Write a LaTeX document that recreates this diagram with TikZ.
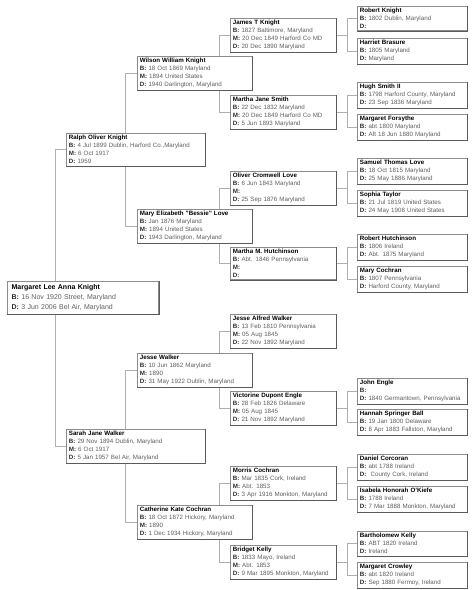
\documentclass[tikz,border=0pt]{standalone}
\usepackage{fontspec}
\setmainfont{Liberation Sans}

\definecolor{boxline}{RGB}{140,140,140}
\definecolor{boxdark}{RGB}{90,90,90}
\definecolor{linkgray}{RGB}{175,175,175}
\definecolor{txtgray}{RGB}{95,95,95}
\definecolor{lblgray}{RGB}{45,45,45}

\newcommand{\lbl}[1]{{\bfseries\color{lblgray}#1:}\ }
\newcommand{\who}[1]{{\bfseries\color{black}#1}}

\pgfdeclarelayer{bg}
\pgfsetlayers{bg,main}

\begin{document}
\begin{tikzpicture}[x=1pt, y=-1pt,
  person/.style={draw=boxline, fill=white, line width=0.8pt, anchor=north west,
    align=left, inner xsep=2.5pt, inner ysep=2pt, text=txtgray,
    font=\fontsize{6.2}{8}\selectfont,
    append after command={(\tikzlastnode.north east) edge[draw=boxdark, line width=0.8pt]
      (\tikzlastnode.south east) (\tikzlastnode.south east) edge[draw=boxdark, line width=0.8pt]
      (\tikzlastnode.south west)}},
  rootbox/.style={person, line width=1.3pt, inner xsep=4pt, inner ysep=3pt,
    text width=143pt, font=\fontsize{7}{10}\selectfont},
  gena/.style={person, text width=134pt},
  genb/.style={person, text width=110pt},
  genc/.style={person, text width=101pt},
  gend/.style={person, text width=105pt},
  link/.style={draw=linkgray, line width=0.8pt}]
  \useasboundingbox (0,0) rectangle (474,590);

  % Root person
  \node[rootbox] (margaret) at (7,281) {\who{Margaret Lee Anna Knight}\\
    \lbl{B}16 Nov 1920 Street, Maryland\\ \lbl{D}3 Jun 2006 Bel Air, Maryland};

  % Parents
  \node[gena] (ralph) at (66,133) {\who{Ralph Oliver Knight}\\
    \lbl{B}4 Jul 1899 Dublin, Harford Co.,Maryland\\ \lbl{M}6 Oct 1917\\ \lbl{D}1959};
  \node[gena] (sarah) at (66,429) {\who{Sarah Jane Walker}\\
    \lbl{B}29 Nov 1894 Dublin, Maryland\\ \lbl{M}6 Oct 1917\\ \lbl{D}5 Jan 1957 Bel Air, Maryland};

  % Grandparents
  \node[genb] (wilson) at (137,56) {\who{Wilson William Knight}\\
    \lbl{B}18 Oct 1869 Maryland\\ \lbl{M}1894 United States\\ \lbl{D}1940 Darlington, Maryland};
  \node[genb] (bessie) at (137,209) {\who{Mary Elizabeth "Bessie" Love}\\
    \lbl{B}Jan 1876 Maryland\\ \lbl{M}1894 United States\\ \lbl{D}1943 Darlington, Maryland};
  \node[genb] (jesse) at (137,353) {\who{Jesse Walker}\\
    \lbl{B}10 Jun 1862 Maryland\\ \lbl{M}1890\\ \lbl{D}31 May 1922 Dublin, Maryland};
  \node[genb] (catherine) at (137,505) {\who{Catherine Kate Cochran}\\
    \lbl{B}18 Oct 1872 Hickory, Maryland\\ \lbl{M}1890\\ \lbl{D}1 Dec 1934 Hickory, Maryland};

  % Great-grandparents
  \node[genc] (james) at (230,18) {\who{James T Knight}\\
    \lbl{B}1827 Baltimore, Maryland\\ \lbl{M}20 Dec 1849 Harford Co MD\\ \lbl{D}20 Dec 1890 Maryland};
  \node[genc] (marthas) at (230,95) {\who{Martha Jane Smith}\\
    \lbl{B}22 Dec 1832 Maryland\\ \lbl{M}20 Dec 1849 Harford Co MD\\ \lbl{D}5 Jun 1893 Maryland};
  \node[genc] (oliver) at (230,171) {\who{Oliver Cromwell Love}\\
    \lbl{B}6 Jun 1843 Maryland\\ \lbl{M}\\ \lbl{D}25 Sep 1876 Maryland};
  \node[genc] (marthah) at (230,247) {\who{Martha M. Hutchinson}\\
    \lbl{B}Abt. 1846 Pennsylvania\\ \lbl{M}\\ \lbl{D}};
  \node[genc] (jessea) at (230,314) {\who{Jesse Alfred Walker}\\
    \lbl{B}13 Feb 1810 Pennsylvania\\ \lbl{M}05 Aug 1845\\ \lbl{D}22 Nov 1892 Maryland};
  \node[genc] (victorine) at (230,391) {\who{Victorine Dupont Engle}\\
    \lbl{B}28 Feb 1826 Delaware\\ \lbl{M}05 Aug 1845\\ \lbl{D}21 Nov 1892 Maryland};
  \node[genc] (morris) at (230,466) {\who{Morris Cochran}\\
    \lbl{B}Mar 1835 Cork, Ireland\\ \lbl{M}Abt. 1853\\ \lbl{D}3 Apr 1916 Monkton, Maryland};
  \node[genc] (bridget) at (230,545) {\who{Bridget Kelly}\\
    \lbl{B}1833 Mayo, Ireland\\ \lbl{M}Abt. 1853\\ \lbl{D}9 Mar 1895 Monkton, Maryland};

  % Great-great-grandparents
  \node[gend] (robertk) at (357,6) {\who{Robert Knight}\\ \lbl{B}1802 Dublin, Maryland\\ \lbl{D}};
  \node[gend] (harriet) at (357,38) {\who{Harriet Brasure}\\ \lbl{B}1805 Maryland\\ \lbl{D}Maryland};
  \node[gend] (hugh) at (357,82) {\who{Hugh Smith II}\\ \lbl{B}1798 Harford County, Maryland\\ \lbl{D}23 Sep 1836 Maryland};
  \node[gend] (margaretf) at (357,114) {\who{Margaret Forsythe}\\ \lbl{B}abt 1800 Maryland\\ \lbl{D}Aft 18 Jun 1880 Maryland};
  \node[gend] (samuel) at (357,158) {\who{Samuel Thomas Love}\\ \lbl{B}18 Oct 1815 Maryland\\ \lbl{D}25 May 1886 Maryland};
  \node[gend] (sophia) at (357,190) {\who{Sophia Taylor}\\ \lbl{B}21 Jul 1819 United States\\ \lbl{D}24 May 1908 United States};
  \node[gend] (roberth) at (357,234) {\who{Robert Hutchinson}\\ \lbl{B}1806 Ireland\\ \lbl{D}Abt. 1875 Maryland};
  \node[gend] (maryc) at (357,266) {\who{Mary Cochran}\\ \lbl{B}1807 Pennsylvania\\ \lbl{D}Harford County, Maryland};
  \node[gend] (john) at (357,378) {\who{John Engle}\\ \lbl{B}\\ \lbl{D}1840 Germantown, Pennsylvania};
  \node[gend] (hannah) at (357,409) {\who{Hannah Springer Ball}\\ \lbl{B}19 Jan 1800 Delaware\\ \lbl{D}8 Apr 1883 Fallston, Maryland};
  \node[gend] (daniel) at (357,454) {\who{Daniel Corcoran}\\ \lbl{B}abt 1788 Ireland\\ \lbl{D}\ County Cork, Ireland};
  \node[gend] (isabela) at (357,486) {\who{Isabela Honorah O'Kiefe}\\ \lbl{B}1788 Ireland\\ \lbl{D}7 Mar 1888 Monkton, Maryland};
  \node[gend] (bartholomew) at (357,531) {\who{Bartholomew Kelly}\\ \lbl{B}ABT 1820 Ireland\\ \lbl{D}Ireland};
  \node[gend] (margaretc) at (357,562) {\who{Margaret Crowley}\\ \lbl{B}abt 1820 Ireland\\ \lbl{D}Sep 1880 Fermoy, Ireland};

  % Connectors (behind the boxes)
  \begin{pgfonlayer}{bg}
    \draw[link] (ralph.west) -- ++(-11,0) coordinate (mj) |- (sarah.west);
    \draw[link] (wilson.west) -- ++(-12,0) |- (bessie.west);
    \draw[link] (jesse.west) -- ++(-12,0) |- (catherine.west);
    \draw[link] (james.west) -- ++(-11,0) |- (marthas.west);
    \draw[link] (oliver.west) -- ++(-11,0) |- (marthah.west);
    \draw[link] (jessea.west) -- ++(-11,0) |- (victorine.west);
    \draw[link] (morris.west) -- ++(-11,0) |- (bridget.west);
    \foreach \c/\f/\m in {james/robertk/harriet, marthas/hugh/margaretf,
        oliver/samuel/sophia, marthah/roberth/maryc, victorine/john/hannah,
        morris/daniel/isabela, bridget/bartholomew/margaretc} {
      \draw[link] (\f.west) -- ++(-10,0) coordinate (pj) |- (\m.west);
      \draw[link] (\c.east) -- (\c.east -| pj);
    }
  \end{pgfonlayer}
\end{tikzpicture}
\end{document}
